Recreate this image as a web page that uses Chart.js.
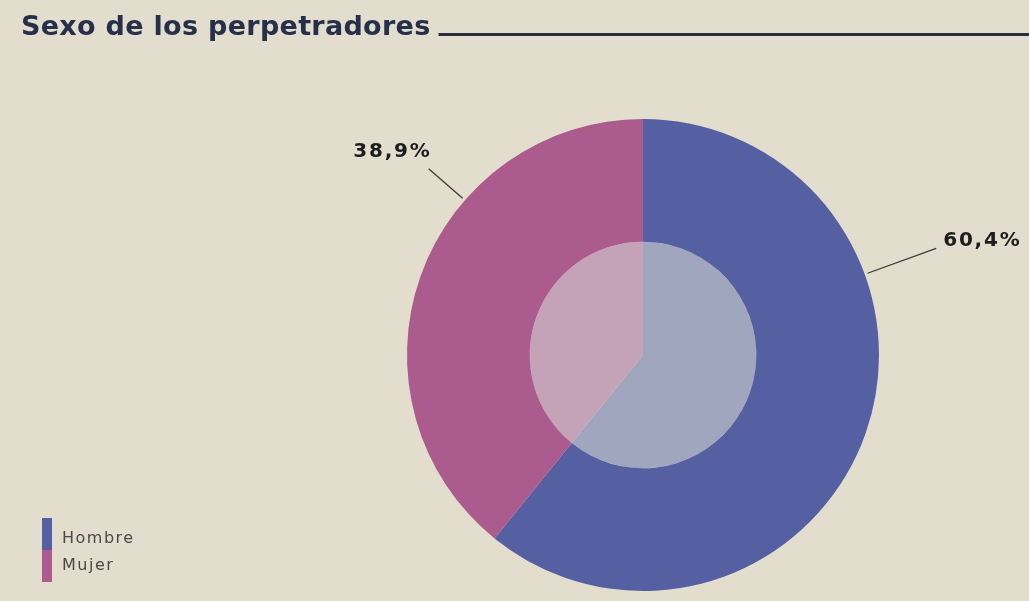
<!DOCTYPE html>
<html>
<head>
<meta charset="utf-8">
<script src="https://cdn.jsdelivr.net/npm/chart.js"></script>
<style>
  html, body { margin: 0; padding: 0; background: #e2ddcc; }
  #wrap { width: 1029px; height: 601px; position: relative; }
</style>
</head>
<body>
<div id="wrap"><canvas id="sexChart"></canvas></div>
<script>
// data
const categories = ['Hombre', 'Mujer'];
const shares = [60.4, 38.9];
const shareLabels = ['60,4%', '38,9%'];
const chartTitle = 'Sexo de los perpetradores';

const outerColors = ['#5560a3', '#ab5b8d'];
const innerColors = ['#a1a6bf', '#c4a3b8'];

// title + underline, percent callouts, legend bar
const decorPlugin = {
    id: 'decor',
    afterDraw(chart) {
        const ctx = chart.ctx;
        ctx.save();

        // title
        ctx.font = 'bold 27px "DejaVu Sans"';
        ctx.letterSpacing = '0.3px';
        ctx.fillStyle = '#27304a';
        ctx.textBaseline = 'alphabetic';
        ctx.textAlign = 'left';
        ctx.fillText(chartTitle, 21, 35);
        const tw = ctx.measureText(chartTitle).width;
        ctx.fillStyle = '#2b2f3b';
        ctx.fillRect(21 + tw + 8, 33, chart.width, 3);

        // callouts
        const meta = chart.getDatasetMeta(0);
        const callouts = [
            { angle: 70, len: 76, side: 'right' },
            { angle: 311, len: 48, side: 'left' }
        ];
        ctx.strokeStyle = '#3a3a3a';
        ctx.lineWidth = 1.3;
        ctx.font = 'bold 20px "DejaVu Sans"';
        ctx.letterSpacing = '1.8px';
        ctx.fillStyle = '#1d1d1d';
        ctx.textBaseline = 'middle';
        meta.data.forEach((arc, i) => {
            const c = callouts[i];
            const a = (c.angle - 90) * Math.PI / 180;
            const r0 = arc.outerRadius + 3;
            const r1 = arc.outerRadius + c.len;
            const x0 = arc.x + Math.cos(a) * r0, y0 = arc.y + Math.sin(a) * r0;
            const x1 = arc.x + Math.cos(a) * r1, y1 = arc.y + Math.sin(a) * r1;
            ctx.beginPath();
            ctx.moveTo(x0, y0);
            ctx.lineTo(x1, y1);
            ctx.stroke();
            if (c.side === 'right') {
                ctx.textAlign = 'left';
                ctx.fillText(shareLabels[i], x1 + 7, y1 - 7);
            } else {
                ctx.textAlign = 'right';
                ctx.fillText(shareLabels[i], x1 + 3, y1 - 17);
            }
        });

        // legend
        ctx.letterSpacing = '1.5px';
        ctx.font = '16px "DejaVu Sans"';
        ctx.textAlign = 'left';
        categories.forEach((name, i) => {
            const y = 518 + i * 32;
            ctx.fillStyle = outerColors[i];
            ctx.fillRect(42, y, 10, 32);
            ctx.fillStyle = '#4a4a48';
            ctx.fillText(name, 62, y + 21 - i * 5);
        });
        ctx.restore();
    }
};

new Chart(document.getElementById('sexChart'), {
    type: 'doughnut',
    data: {
        labels: categories,
        datasets: [{
            data: shares,
            backgroundColor: outerColors,
            borderWidth: 0,
            weight: 52
        }, {
            data: shares,
            backgroundColor: innerColors,
            borderWidth: 0,
            weight: 48
        }]
    },
    options: {
        responsive: true,
        maintainAspectRatio: false,
        animation: false,
        cutout: 0,
        layout: { padding: { top: 119, bottom: 10, left: 407, right: 150 } },
        plugins: {
            legend: { display: false },
            tooltip: { enabled: false }
        }
    },
    plugins: [decorPlugin]
});
</script>
</body>
</html>
